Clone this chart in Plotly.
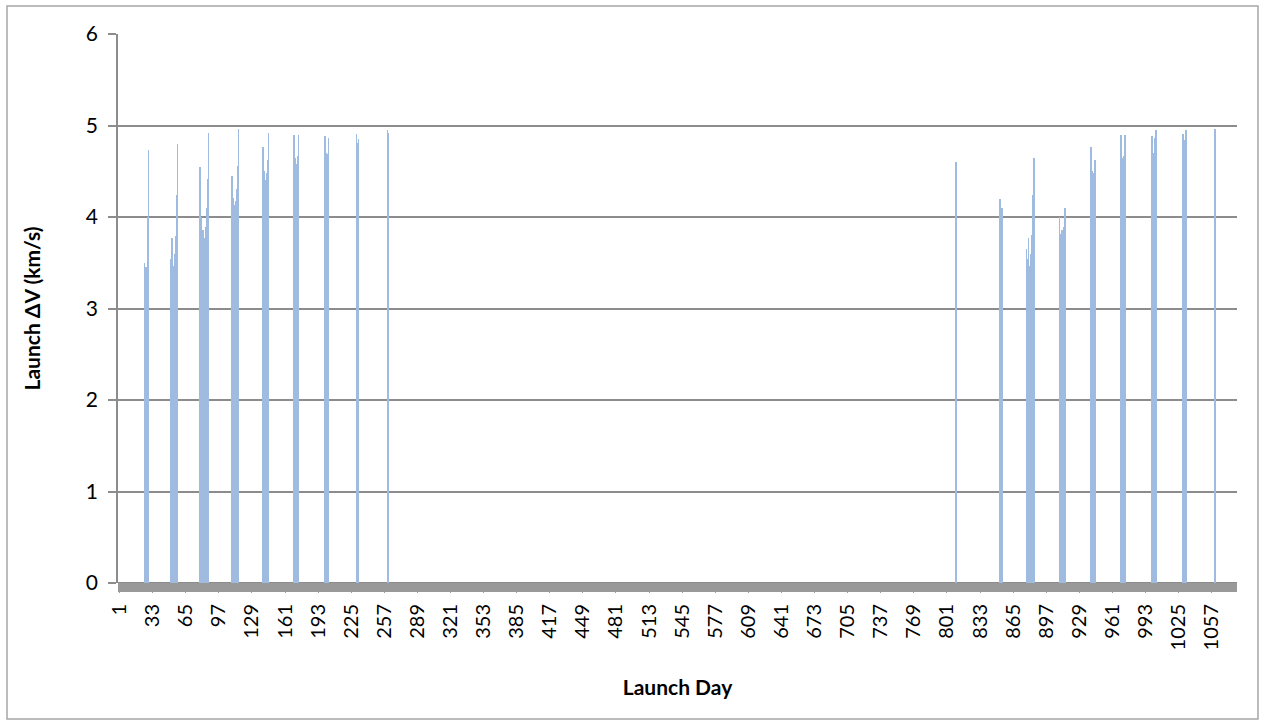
import plotly.graph_objects as go

# Launch windows (day -> launch delta-V km/s)
days_w1 = [25, 26, 27, 28, 29]
dv_w1 = [3.50, 3.45, 3.45, 4.00, 4.73]
days_w2 = [51, 52, 53, 54, 55, 56, 57]
dv_w2 = [3.54, 3.77, 3.47, 3.60, 3.79, 4.24, 4.80]
days_w3 = [79, 80, 81, 82, 83, 84, 85, 86, 87]
dv_w3 = [4.55, 4.00, 3.81, 3.86, 3.77, 3.89, 4.10, 4.42, 4.92]
days_w4 = [110, 111, 112, 113, 114, 115, 116]
dv_w4 = [4.45, 4.21, 4.13, 4.18, 4.31, 4.56, 4.96]
days_w5 = [140, 141, 142, 143, 144, 145]
dv_w5 = [4.77, 4.50, 4.40, 4.48, 4.62, 4.92]
days_w6 = [170, 171, 172, 173, 174]
dv_w6 = [4.90, 4.65, 4.58, 4.67, 4.90]
days_w7 = [200, 201, 202, 203]
dv_w7 = [4.89, 4.70, 4.69, 4.86]
days_w8 = [230, 231, 232]
dv_w8 = [4.91, 4.81, 4.85]
days_w9 = [260, 261]
dv_w9 = [4.95, 4.92]
days_w10 = [810]
dv_w10 = [4.60]
days_w11 = [852, 853, 854]
dv_w11 = [4.20, 3.90, 4.10]
days_w12 = [878, 879, 880, 881, 882, 883, 884, 885]
dv_w12 = [3.65, 3.54, 3.77, 3.47, 3.60, 3.80, 4.24, 4.64]
days_w13 = [910, 911, 912, 913, 914, 915]
dv_w13 = [4.00, 3.81, 3.86, 3.78, 3.89, 4.10]
days_w14 = [940, 941, 942, 943, 944]
dv_w14 = [4.77, 4.50, 4.40, 4.48, 4.62]
days_w15 = [969, 970, 971, 972, 973]
dv_w15 = [4.90, 4.65, 4.58, 4.67, 4.90]
days_w16 = [999, 1000, 1001, 1002, 1003]
dv_w16 = [4.89, 4.70, 4.69, 4.86, 4.95]
days_w17 = [1029, 1030, 1031, 1032]
dv_w17 = [4.91, 4.81, 4.84, 4.95]
days_w18 = [1060]
dv_w18 = [4.96]

day_groups = [days_w1, days_w2, days_w3, days_w4, days_w5, days_w6, days_w7, days_w8, days_w9,
              days_w10, days_w11, days_w12, days_w13, days_w14, days_w15, days_w16, days_w17, days_w18]
dv_groups = [dv_w1, dv_w2, dv_w3, dv_w4, dv_w5, dv_w6, dv_w7, dv_w8, dv_w9,
             dv_w10, dv_w11, dv_w12, dv_w13, dv_w14, dv_w15, dv_w16, dv_w17, dv_w18]

launch_day = [d for g in day_groups for d in g]
launch_dv = [v for g in dv_groups for v in g]

x_tick_vals = list(range(1, 1058, 32))
x_tick_text = [str(v) for v in x_tick_vals]
y_tick_vals = [0, 1, 2, 3, 4, 5, 6]

axis_gray = "#8c8c8c"
font_family = "Lato, 'Open Sans', sans-serif"
PLOT_W = 1266 - 118 - 29
PLOT_H = 726 - 34 - 143

fig = go.Figure()
fig.add_trace(go.Bar(
    x=launch_day, y=launch_dv, width=0.7,
    marker=dict(color="#9fbbe0", line=dict(width=0)),
    showlegend=False,
))

fig.update_layout(
    width=1266, height=726,
    margin=dict(l=118, r=29, t=34, b=143),
    paper_bgcolor="white", plot_bgcolor="white",
    font=dict(family=font_family, color="#000000"),
    bargap=0,
    xaxis=dict(
        range=[-0.5, 1081.5],
        tickmode="array", tickvals=x_tick_vals, ticktext=x_tick_text,
        tickangle=-90, tickfont=dict(size=20),
        ticks="outside", ticklen=9, tickcolor="#999999",
        ticklabelstandoff=3,
        showgrid=False, zeroline=False,
        showline=False,
        title=dict(text="<b>Launch Day</b>", font=dict(size=21), standoff=30),
    ),
    yaxis=dict(
        range=[0, 6], tickvals=y_tick_vals,
        tickfont=dict(size=21),
        ticks="outside", ticklen=8, tickcolor=axis_gray, tickwidth=1.5,
        ticklabelstandoff=6,
        showgrid=True, gridcolor=axis_gray, gridwidth=1.5,
        zeroline=True, zerolinecolor=axis_gray, zerolinewidth=1.5,
        showline=True, linecolor=axis_gray, linewidth=1.5,
        title=dict(text="<b>Launch ΔV (km/s)</b>", font=dict(size=21), standoff=40),
    ),
    shapes=[
        dict(
            type="rect", xref="paper", yref="paper",
            x0=(7 - 118) / PLOT_W, x1=(1258 - 118) / PLOT_W,
            y0=(583 - 719) / PLOT_H, y1=(583 - 6) / PLOT_H,
            line=dict(color="#a6a6a6", width=1.5), fillcolor="rgba(0,0,0,0)", layer="below",
        ),
        dict(
            type="rect", xref="paper", yref="paper",
            x0=0, x1=1, y0=-9 / PLOT_H, y1=0,
            line=dict(width=0), fillcolor="#999999", layer="above",
        ),
    ],
)

fig.write_html("out.html", config={"displayModeBar": False},
               post_script="document.body.style.margin='0';")
